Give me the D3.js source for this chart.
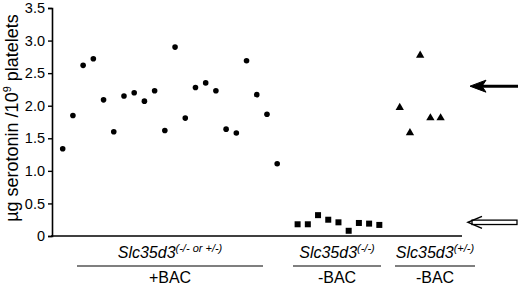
<!DOCTYPE html>
<html>
<head>
<meta charset="utf-8">
<script src="https://cdn.jsdelivr.net/npm/d3@7"></script>
<style>
  body { margin: 0; background: #fff; }
  text { font-family: "Liberation Sans", Arial, sans-serif; fill: #000; }
</style>
</head>
<body>
<div id="chart"></div>
<script>
// valores (ug serotonina / 10^9 plaquetas)
var plusBAC = [1.34, 1.85, 2.62, 2.72, 2.09, 1.60, 2.15, 2.20, 2.07, 2.23, 1.62,
               2.90, 1.81, 2.28, 2.35, 2.23, 1.64, 1.58, 2.69, 2.17, 1.87, 1.11];
var koBAC = [0.18, 0.18, 0.32, 0.25, 0.21, 0.08, 0.20, 0.19, 0.17];
var hetBAC = [1.98, 1.59, 2.78, 1.82, 1.82];
var yTicks = [0, 0.5, 1.0, 1.5, 2.0, 2.5, 3.0, 3.5];
var groups = [
  {gene: "Slc35d3", sup: "(-/- or +/-)", bac: "+BAC"},
  {gene: "Slc35d3", sup: "(-/-)", bac: "-BAC"},
  {gene: "Slc35d3", sup: "(+/-)", bac: "-BAC"}
];
var arrowValues = [2.3, 0.21];   // normal (negra) y deficiente (hueca)

var w = 520, h = 286,
    margin = {top: 8, left: 52, bottom: 50};

var svg = d3.select("#chart").append("svg")
    .attr("width", w).attr("height", h);

var yScale = d3.scaleLinear().domain([0, 3.5]).range([236, 8]);
// posicion por indice, con un hueco entre grupos
var xScale = d3.scaleLinear().domain([0, 37]).range([62.7, 440.6]);

var points = [];
plusBAC.forEach(function(v, i) { points.push({i: i, v: v, g: 0}); });
koBAC.forEach(function(v, i) { points.push({i: plusBAC.length + 1 + i, v: v, g: 1}); });
hetBAC.forEach(function(v, i) { points.push({i: plusBAC.length + koBAC.length + 2 + i, v: v, g: 2}); });

// eje Y
var yAxis = d3.axisLeft(yScale)
    .tickValues(yTicks)
    .tickSize(4)
    .tickPadding(3)
    .tickFormat(function(d) { return d === 0 ? "0" : d3.format(".1f")(d); });

var gy = svg.append("g")
    .attr("transform", "translate(" + margin.left + ",0)")
    .call(yAxis);
gy.select(".domain").attr("stroke", "#000").attr("stroke-width", 1.6);
gy.selectAll(".tick line").attr("stroke", "#000").attr("stroke-width", 1.4);
gy.selectAll(".tick text").style("font-size", "14.5px").attr("fill", "#000");

// eje X (solo la linea)
svg.append("line")
    .attr("x1", margin.left - 1).attr("x2", 462)
    .attr("y1", yScale(0)).attr("y2", yScale(0))
    .attr("stroke", "#000").attr("stroke-width", 1.6);

// titulo eje Y
var title = svg.append("text")
    .attr("transform", "translate(18,118) rotate(-90)")
    .attr("text-anchor", "middle")
    .style("font-size", "18px");
title.append("tspan").text("\u00b5g serotonin /10");
title.append("tspan").attr("dy", -7).style("font-size", "11px").text("9");
title.append("tspan").attr("dy", 7).text(" platelets");

// marcas
var marks = svg.append("g");
marks.selectAll("circle")
    .data(points.filter(function(d) { return d.g === 0; }))
    .enter().append("circle")
    .attr("cx", function(d) { return xScale(d.i); })
    .attr("cy", function(d) { return yScale(d.v); })
    .attr("r", 2.8)
    .attr("fill", "#000");

marks.selectAll("rect")
    .data(points.filter(function(d) { return d.g === 1; }))
    .enter().append("rect")
    .attr("x", function(d) { return xScale(d.i) - 3; })
    .attr("y", function(d) { return yScale(d.v) - 3; })
    .attr("width", 6).attr("height", 6)
    .attr("fill", "#000");

var tri = d3.symbol().type(d3.symbolTriangle).size(30);
marks.selectAll("path.tri")
    .data(points.filter(function(d) { return d.g === 2; }))
    .enter().append("path")
    .attr("class", "tri")
    .attr("d", tri)
    .attr("transform", function(d) { return "translate(" + xScale(d.i) + "," + (yScale(d.v) + 0.5) + ")"; })
    .attr("fill", "#000");

// etiquetas de grupo (subrayado ancho segun la figura)
var lineY = 266,
    spans = [[77, 263], [293, 381], [395, 475]];
groups.forEach(function(gr, k) {
  var x0 = spans[k][0], x1 = spans[k][1];
  var cx = (x0 + x1) / 2;
  svg.append("line")
      .attr("x1", x0).attr("x2", x1)
      .attr("y1", lineY).attr("y2", lineY)
      .attr("stroke", "#000").attr("stroke-width", 1.2);
  var t = svg.append("text")
      .attr("x", cx).attr("y", 258)
      .attr("text-anchor", "middle")
      .style("font-size", "16px");
  t.append("tspan").style("font-style", "italic").text(gr.gene);
  t.append("tspan").attr("dy", -6).style("font-style", "italic").style("font-size", "11px").text(gr.sup);
  svg.append("text")
      .attr("x", cx).attr("y", 283)
      .attr("text-anchor", "middle")
      .style("font-size", "16px")
      .text(gr.bac);
});

// flechas de referencia
var ya = yScale(arrowValues[0]);
svg.append("line")
    .attr("x1", 480).attr("x2", 518)
    .attr("y1", ya).attr("y2", ya)
    .attr("stroke", "#000").attr("stroke-width", 3);
svg.append("path")
    .attr("d", "M470," + ya + " L486," + (ya - 6) + " L482," + ya + " L486," + (ya + 6) + " Z")
    .attr("fill", "#000").attr("stroke", "#000").attr("stroke-width", 1);

var yb = yScale(arrowValues[1]);
svg.append("rect")
    .attr("x", 472).attr("y", yb - 2.2)
    .attr("width", 45).attr("height", 4.4)
    .attr("fill", "#fff").attr("stroke", "#000").attr("stroke-width", 1.3);
svg.append("path")
    .attr("d", "M482," + (yb - 6) + " L468," + yb + " L482," + (yb + 6))
    .attr("fill", "none").attr("stroke", "#000").attr("stroke-width", 1.5);
</script>
</body>
</html>
